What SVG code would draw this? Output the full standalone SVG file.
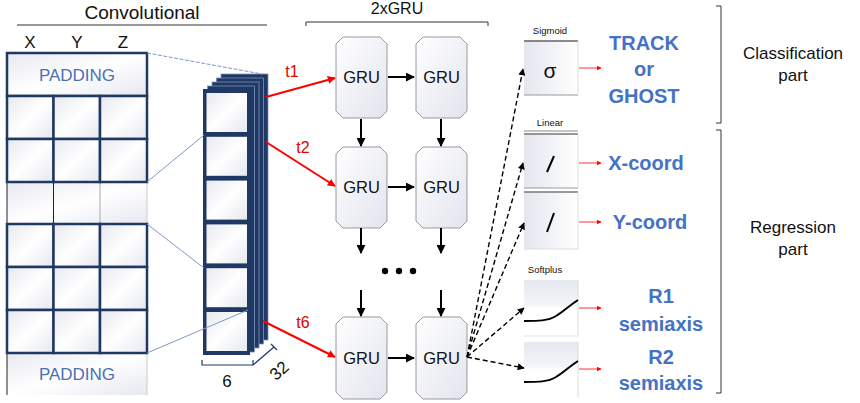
<svg xmlns="http://www.w3.org/2000/svg" width="860" height="403" viewBox="0 0 860 403">
<style>
.t{font-family:"Liberation Sans",Arial,sans-serif;fill:#111}
.blue{font-family:"Liberation Sans",Arial,sans-serif;fill:#4472c4;font-weight:bold;font-size:20px;text-anchor:middle}
.pad{font-family:"Liberation Sans",Arial,sans-serif;fill:#4a6fb5;font-size:17px;text-anchor:middle}
.red{font-family:"Liberation Sans",Arial,sans-serif;fill:#e00000;font-size:16px;text-anchor:middle}
.cell{fill:url(#cg);stroke:#1f3864;stroke-width:2.5}
.gru{fill:url(#gg);stroke:#9a9a9a;stroke-width:1}
.gtx{font-family:"Liberation Sans",Arial,sans-serif;fill:#111;font-size:16.5px;text-anchor:middle}
.arr{stroke:#000;stroke-width:2;fill:none;marker-end:url(#ab)}
.dash{stroke:#000;stroke-width:1.4;fill:none;stroke-dasharray:5,3;marker-end:url(#ad)}
.rarr{stroke:#ff0000;stroke-width:2;fill:none;marker-end:url(#ar)}
.rarr2{stroke:#ff3030;stroke-width:1;fill:none;marker-end:url(#ar2)}
.brk{stroke:#333;stroke-width:1;fill:none}
.lnk{stroke:#7f98c8;stroke-width:1;fill:none}
.layer{fill:#1f3864;stroke:#7d92bb;stroke-width:0.8}
.obox{fill:url(#og)}
</style>
<defs>
<linearGradient id="cg" x1="0" y1="0" x2="1" y2="1">
<stop offset="0" stop-color="#e8e9f0"/><stop offset="0.5" stop-color="#ffffff"/><stop offset="1" stop-color="#e6e8f0"/>
</linearGradient>
<linearGradient id="gg" x1="0" y1="0" x2="1" y2="1">
<stop offset="0" stop-color="#ffffff"/><stop offset="1" stop-color="#e2e4ee"/>
</linearGradient>
<linearGradient id="og" x1="0" y1="0" x2="1" y2="0">
<stop offset="0" stop-color="#e4e6ef"/><stop offset="1" stop-color="#ffffff"/>
</linearGradient>
<linearGradient id="sg" x1="0" y1="0" x2="0" y2="1">
<stop offset="0" stop-color="#e6e8f0"/><stop offset="0.45" stop-color="#f4f5f8"/><stop offset="0.5" stop-color="#ffffff"/><stop offset="1" stop-color="#ffffff"/>
</linearGradient>
<marker id="ab" viewBox="0 0 10 10" refX="9" refY="5" markerWidth="4.5" markerHeight="4.5" orient="auto"><path d="M0,0L10,5L0,10z" fill="#000"/></marker>
<marker id="ad" viewBox="0 0 10 10" refX="9" refY="5" markerWidth="5" markerHeight="5" orient="auto"><path d="M0,0L10,5L0,10z" fill="#000"/></marker>
<marker id="ar" viewBox="0 0 10 10" refX="9" refY="5" markerWidth="4" markerHeight="4" orient="auto"><path d="M0,0L10,5L0,10z" fill="#ff0000"/></marker>
<marker id="ar2" viewBox="0 0 10 10" refX="9" refY="5" markerWidth="5" markerHeight="5" orient="auto"><path d="M0,0L10,5L0,10z" fill="#ff0000"/></marker>
</defs>
<rect width="860" height="403" fill="#ffffff"/>

<!-- Convolutional header -->
<g id="conv-header">
<text class="t" x="142" y="19" font-size="19" text-anchor="middle">Convolutional</text>
<line class="brk" x1="17" y1="25" x2="267" y2="25" stroke="#555"/>
<text class="t" x="30" y="48" font-size="17" text-anchor="middle">X</text>
<text class="t" x="77" y="48" font-size="17" text-anchor="middle">Y</text>
<text class="t" x="123" y="48" font-size="17" text-anchor="middle">Z</text>
</g>

<!-- Input grid -->
<g id="input-grid">
<rect x="7" y="182" width="140" height="42" fill="url(#cg)"/>
<line x1="7" y1="182" x2="7" y2="224" stroke="#222" stroke-width="1"/>
<line x1="53.5" y1="182" x2="53.5" y2="224" stroke="#222" stroke-width="1"/>
<line x1="100" y1="182" x2="100" y2="224" stroke="#aaa" stroke-width="1"/>
<line x1="147" y1="182" x2="147" y2="224" stroke="#ccc" stroke-width="1"/>
<rect x="7" y="353" width="140" height="42" fill="url(#cg)"/>
<line x1="7" y1="353" x2="7" y2="395" stroke="#222" stroke-width="1"/>
<line x1="147" y1="353" x2="147" y2="395" stroke="#ccc" stroke-width="1"/>
<text class="pad" x="77" y="380">PADDING</text>
<rect class="cell" x="7" y="53" width="140" height="43"/>
<text class="pad" x="77" y="81">PADDING</text>
<rect class="cell" x="7" y="96" width="46.5" height="43"/>
<rect class="cell" x="53.5" y="96" width="46.5" height="43"/>
<rect class="cell" x="100" y="96" width="47" height="43"/>
<rect class="cell" x="7" y="139" width="46.5" height="43"/>
<rect class="cell" x="53.5" y="139" width="46.5" height="43"/>
<rect class="cell" x="100" y="139" width="47" height="43"/>
<rect class="cell" x="7" y="224" width="46.5" height="43"/>
<rect class="cell" x="53.5" y="224" width="46.5" height="43"/>
<rect class="cell" x="100" y="224" width="47" height="43"/>
<rect class="cell" x="7" y="267" width="46.5" height="43"/>
<rect class="cell" x="53.5" y="267" width="46.5" height="43"/>
<rect class="cell" x="100" y="267" width="47" height="43"/>
<rect class="cell" x="7" y="310" width="46.5" height="43"/>
<rect class="cell" x="53.5" y="310" width="46.5" height="43"/>
<rect class="cell" x="100" y="310" width="47" height="43"/>
</g>

<!-- Feature stack -->
<g id="feature-stack">
<rect class="layer" x="221" y="74" width="47" height="266"/>
<rect class="layer" x="216.5" y="78" width="47" height="266"/>
<rect class="layer" x="212" y="82" width="47" height="266"/>
<rect class="layer" x="207.5" y="86" width="47" height="266"/>
<rect x="203" y="89" width="47" height="266" fill="#1f3864"/>
<rect x="206.5" y="93" width="40.5" height="39" fill="url(#cg)"/>
<rect x="206.5" y="136.8" width="40.5" height="39" fill="url(#cg)"/>
<rect x="206.5" y="180.6" width="40.5" height="39" fill="url(#cg)"/>
<rect x="206.5" y="224.4" width="40.5" height="39" fill="url(#cg)"/>
<rect x="206.5" y="268.2" width="40.5" height="39" fill="url(#cg)"/>
<rect x="206.5" y="312" width="40.5" height="39" fill="url(#cg)"/>
<path d="M202,360V365H253V360" stroke="#1f3864" stroke-width="1.2" fill="none"/>
<path d="M253,365L274,347M271,344L277,350" stroke="#1f3864" stroke-width="1.2" fill="none"/>
<text class="t" x="227" y="387" font-size="17" text-anchor="middle">6</text>
<text class="t" x="0" y="0" font-size="17" text-anchor="middle" transform="translate(283,375) rotate(-42)">32</text>
</g>

<!-- GRU nodes -->
<g id="gru-1-1"><path class="gru" d="M343,37H380L387,44V111L380,118H343L336,111V44Z"/><text class="gtx" x="361.5" y="83">GRU</text></g>
<g id="gru-1-2"><path class="gru" d="M423,37H460L467,44V111L460,118H423L416,111V44Z"/><text class="gtx" x="441.5" y="83">GRU</text></g>
<g id="gru-2-1"><path class="gru" d="M343,147H380L387,154V221L380,228H343L336,221V154Z"/><text class="gtx" x="361.5" y="193">GRU</text></g>
<g id="gru-2-2"><path class="gru" d="M423,147H460L467,154V221L460,228H423L416,221V154Z"/><text class="gtx" x="441.5" y="193">GRU</text></g>
<g id="gru-6-1"><path class="gru" d="M343,317H380L387,324V392L380,399H343L336,392V324Z"/><text class="gtx" x="361.5" y="364">GRU</text></g>
<g id="gru-6-2"><path class="gru" d="M423,317H460L467,324V392L460,399H423L416,392V324Z"/><text class="gtx" x="441.5" y="364">GRU</text></g>
<g id="ellipsis">
<circle cx="385" cy="271" r="3.2" fill="#000"/><circle cx="399" cy="271" r="3.2" fill="#000"/><circle cx="413" cy="271" r="3.2" fill="#000"/>
</g>
<g id="gru-header">
<text class="t" x="397" y="14" font-size="16" text-anchor="middle">2xGRU</text>
<path class="brk" d="M306,26V22H488V26"/>
</g>

<!-- Output boxes -->
<g id="sigmoid">
<text class="t" x="550" y="34" font-size="9.5" text-anchor="middle">Sigmoid</text>
<rect class="obox" x="524" y="40" width="54" height="55"/>
<line x1="524" y1="41" x2="578" y2="41" stroke="#666" stroke-width="1.5"/>
<line x1="524" y1="95" x2="578" y2="95" stroke="#999" stroke-width="1"/>
<line x1="578" y1="41" x2="578" y2="95" stroke="#ddd" stroke-width="1"/>
<text class="t" x="550" y="78" font-size="21" text-anchor="middle">σ</text>
</g>
<g id="linear-x">
<text class="t" x="550" y="126" font-size="9.5" text-anchor="middle">Linear</text>
<rect class="obox" x="524" y="133" width="54" height="55"/>
<line x1="524" y1="131" x2="578" y2="131" stroke="#888" stroke-width="1"/>
<line x1="524" y1="134" x2="578" y2="134" stroke="#777" stroke-width="1.5"/>
<line x1="524" y1="188" x2="578" y2="188" stroke="#999" stroke-width="1"/>
<line x1="578" y1="134" x2="578" y2="188" stroke="#ddd" stroke-width="1"/>
<line x1="547" y1="172" x2="554" y2="156" stroke="#000" stroke-width="2"/>
</g>
<g id="linear-y">
<rect class="obox" x="524" y="192" width="54" height="57"/>
<line x1="524" y1="192" x2="578" y2="192" stroke="#777" stroke-width="1.5"/>
<line x1="524" y1="249" x2="578" y2="249" stroke="#ddd" stroke-width="1"/>
<line x1="578" y1="192" x2="578" y2="249" stroke="#ddd" stroke-width="1"/>
<line x1="547" y1="232" x2="554" y2="213" stroke="#000" stroke-width="2"/>
</g>
<g id="softplus-r1">
<text class="t" x="545" y="273" font-size="9.5" text-anchor="middle">Softplus</text>
<rect x="524" y="280" width="54" height="56" fill="url(#sg)"/>
<line x1="578" y1="280" x2="578" y2="336" stroke="#ddd" stroke-width="1"/>
<line x1="524" y1="336" x2="578" y2="336" stroke="#e4e4e4" stroke-width="1"/>
<path d="M524,321C538,321 548,321 556,316C563,312 570,305 578,300" stroke="#000" stroke-width="2" fill="none"/>
</g>
<g id="softplus-r2">
<rect x="524" y="342" width="54" height="55" fill="url(#sg)"/>
<line x1="578" y1="342" x2="578" y2="397" stroke="#ddd" stroke-width="1"/>
<path d="M524,382C538,382 548,382 556,377C563,373 570,366 578,361" stroke="#000" stroke-width="2" fill="none"/>
</g>

<!-- Output labels -->
<g id="out-track">
<text class="blue" x="644" y="50">TRACK</text>
<text class="blue" x="644" y="76">or</text>
<text class="blue" x="644" y="103">GHOST</text>
</g>
<g id="out-x"><text class="blue" x="646" y="170">X-coord</text></g>
<g id="out-y"><text class="blue" x="650" y="229">Y-coord</text></g>
<g id="out-r1"><text class="blue" x="661" y="303">R1</text><text class="blue" x="661" y="331">semiaxis</text></g>
<g id="out-r2"><text class="blue" x="661" y="364">R2</text><text class="blue" x="661" y="390">semiaxis</text></g>

<!-- Parts brackets -->
<g id="classification-part">
<path class="brk" d="M716,6H721V123H716"/>
<text class="t" x="793" y="59" font-size="17" text-anchor="middle">Classification</text>
<text class="t" x="793" y="81" font-size="17" text-anchor="middle">part</text>
</g>
<g id="regression-part">
<path class="brk" d="M716,130H721V393H716"/>
<text class="t" x="793" y="233" font-size="17" text-anchor="middle">Regression</text>
<text class="t" x="793" y="255" font-size="17" text-anchor="middle">part</text>
</g>

<!-- Connectors -->
<g id="connectors">
<line class="lnk" x1="147" y1="53" x2="262" y2="74" stroke="#5f78a8" stroke-dasharray="4,1.5"/>
<line class="lnk" x1="147" y1="182" x2="204" y2="135"/>
<line class="lnk" x1="147" y1="224" x2="204" y2="268"/>
<line class="lnk" x1="147" y1="353" x2="248" y2="310"/>

<line class="rarr" x1="266" y1="97" x2="335" y2="78"/>
<line class="rarr" x1="266" y1="142" x2="335" y2="186"/>
<line class="rarr" x1="263" y1="321" x2="335" y2="357"/>
<text class="red" x="292" y="77">t1</text>
<text class="red" x="303" y="153">t2</text>
<text class="red" x="303" y="328">t6</text>

<line class="arr" x1="388" y1="77" x2="414" y2="77"/>
<line class="arr" x1="388" y1="187" x2="414" y2="187"/>
<line class="arr" x1="388" y1="358" x2="414" y2="358"/>
<line class="arr" x1="361" y1="119" x2="361" y2="146"/>
<line class="arr" x1="441" y1="119" x2="441" y2="146"/>
<line class="arr" x1="361" y1="228" x2="361" y2="253"/>
<line class="arr" x1="441" y1="228" x2="441" y2="253"/>
<line class="arr" x1="361" y1="290" x2="361" y2="316"/>
<line class="arr" x1="441" y1="290" x2="441" y2="316"/>

<line class="dash" x1="467" y1="357" x2="523" y2="69"/>
<line class="dash" x1="467" y1="357" x2="523" y2="163"/>
<line class="dash" x1="467" y1="357" x2="524" y2="223"/>
<line class="dash" x1="467" y1="357" x2="524" y2="308"/>
<line class="dash" x1="467" y1="357" x2="524" y2="368"/>

<line class="rarr2" x1="579" y1="68" x2="601" y2="68"/>
<line class="rarr2" x1="579" y1="163" x2="601" y2="163"/>
<line class="rarr2" x1="579" y1="222" x2="601" y2="222"/>
<line class="rarr2" x1="579" y1="308" x2="601" y2="308"/>
<line class="rarr2" x1="579" y1="369" x2="601" y2="369"/>
</g>
</svg>
